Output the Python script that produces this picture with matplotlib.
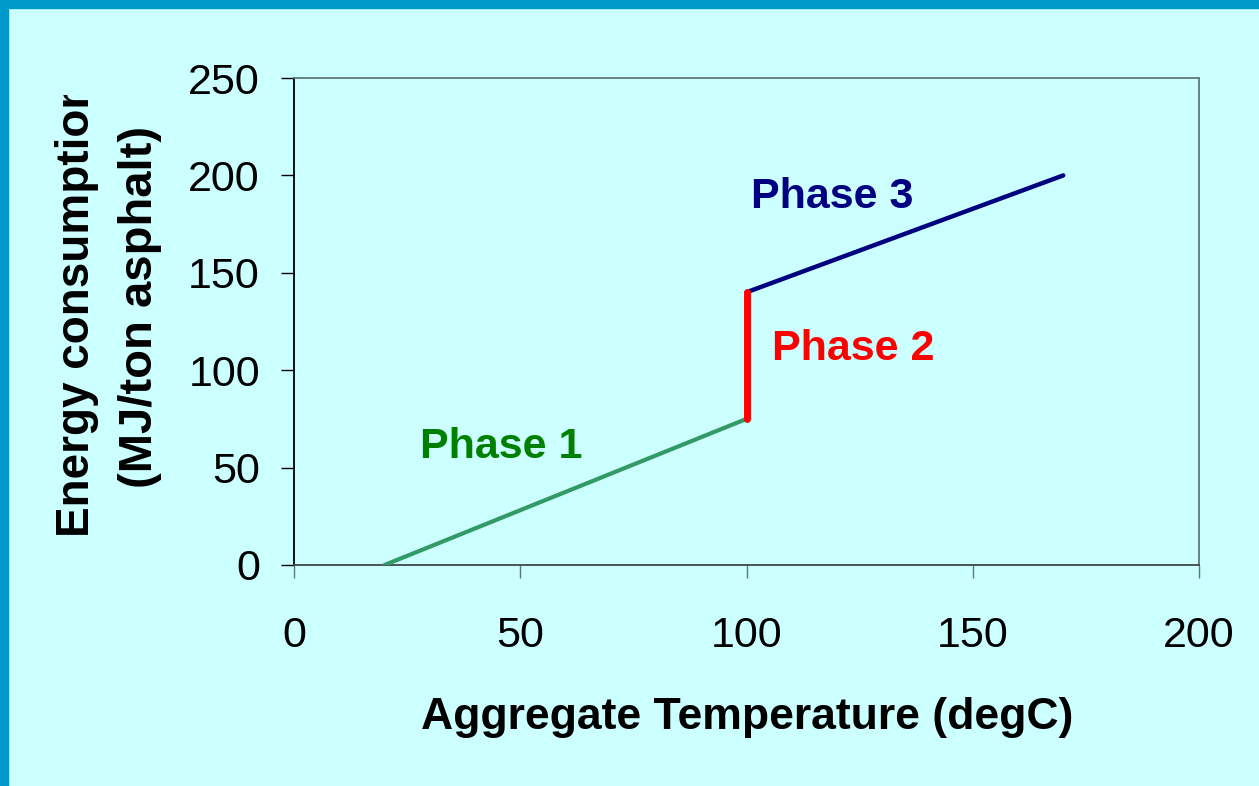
import matplotlib
matplotlib.use("Agg")
import matplotlib.pyplot as plt
from matplotlib.patches import Rectangle
from matplotlib.transforms import Bbox, TransformedBbox

plt.rcParams['font.family'] = ['Liberation Sans', 'DejaVu Sans']

# data
phase1_x = [20, 100]
phase1_y = [0, 75]
phase2_x = [100, 100]
phase2_y = [75, 140]
phase3_x = [100, 170]
phase3_y = [140, 200]

x_ticks = [0, 50, 100, 150, 200]
y_ticks = [0, 50, 100, 150, 200, 250]

bg = '#ccffff'
W, H = 1259, 786

fig = plt.figure(figsize=(W / 100, H / 100), dpi=100, facecolor=bg)

# blue frame at top and left
fig.patches.append(Rectangle((0, 1 - 8 / H), 1, 8 / H, transform=fig.transFigure,
                             color='#0099cc', zorder=0))
fig.patches.append(Rectangle((0, 0), 8 / W, 1, transform=fig.transFigure,
                             color='#0099cc', zorder=0))

ax = fig.add_axes([294 / W, 1 - 565 / H, (1199 - 294) / W, (565 - 78) / H])
ax.set_facecolor(bg)

ax.plot(phase1_x, phase1_y, color='#339966', lw=3.0, solid_capstyle='round', zorder=3)
ax.plot(phase3_x, phase3_y, color='#000080', lw=3.2, solid_capstyle='round', zorder=3)
ax.plot(phase2_x, phase2_y, color='#ff0000', lw=5.0, solid_capstyle='round', zorder=4)

ax.set_xlim(0, 200)
ax.set_ylim(0, 250)
ax.set_xticks(x_ticks)
ax.set_yticks(y_ticks)

ax.spines['left'].set_color('black')
ax.spines['bottom'].set_color('#404848')
ax.spines['top'].set_color('#5f7878')
ax.spines['right'].set_color('#5f7878')
for s in ax.spines.values():
    s.set_linewidth(1.3)

ax.tick_params(axis='y', direction='out', length=9.5, width=1.0, color='black',
               labelsize=31, pad=15)
ax.tick_params(axis='x', direction='out', length=9.5, width=1.0, color='#5f7878',
               labelsize=31, pad=27)

ax.text(27.8, 54.9, 'Phase 1', color='#008000', fontsize=31, fontweight='bold',
        ha='left', va='baseline')
ax.text(105.6, 105.2, 'Phase 2', color='#ff0000', fontsize=31, fontweight='bold',
        ha='left', va='baseline')
ax.text(101, 183.3, 'Phase 3', color='#000080', fontsize=31, fontweight='bold',
        ha='left', va='baseline')

fig.text(747 / W, 1 - 718 / H, 'Aggregate Temperature (degC)', fontsize=32,
         fontweight='bold', ha='center', va='center')

# y label, first line is cut at the top like in the original
clip = TransformedBbox(Bbox([[0, 0], [1, 1 - 95 / H]]), fig.transFigure)
t1 = fig.text(77 / W, 1 - 537 / H, 'Energy consumption', fontsize=33,
              fontweight='bold', rotation=90, ha='center', va='bottom')
t1.set_clip_box(clip)
t1.set_clip_on(True)
fig.text(140 / W, 1 - 307 / H, '(MJ/ton asphalt)', fontsize=34,
         fontweight='bold', rotation=90, ha='center', va='center')

fig.savefig('out.png', dpi=100, facecolor=bg)
